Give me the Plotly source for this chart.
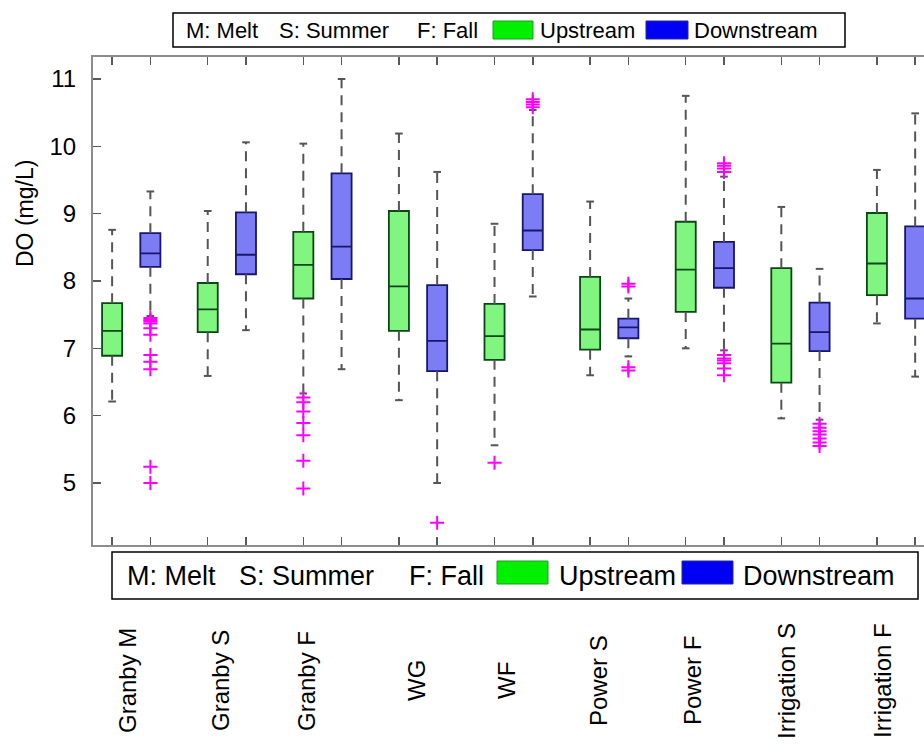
import plotly.graph_objects as go

# ---------------- data ----------------
categories = ["Granby M", "Granby S", "Granby F", "WG", "WF",
              "Power S", "Power F", "Irrigation S", "Irrigation F"]

up_lower = [6.21, 6.59, 6.33, 6.23, 5.56, 6.60, 7.00, 5.96, 7.37]
up_q1    = [6.89, 7.24, 7.74, 7.26, 6.83, 6.98, 7.54, 6.49, 7.79]
up_med   = [7.26, 7.58, 8.24, 7.92, 7.18, 7.28, 8.17, 7.07, 8.26]
up_q3    = [7.67, 7.97, 8.73, 9.04, 7.66, 8.06, 8.88, 8.19, 9.01]
up_upper = [8.76, 9.04, 10.04, 10.19, 8.85, 9.18, 10.75, 9.10, 9.65]
up_outliers = [[], [], [6.27, 6.20, 6.06, 5.89, 5.71, 5.33, 4.92], [], [5.30],
               [], [], [], []]

down_lower = [7.48, 7.27, 6.69, 5.00, 7.77, 6.88, 6.97, 5.94, 6.58]
down_q1    = [8.21, 8.10, 8.03, 6.66, 8.46, 7.15, 7.90, 6.96, 7.44]
down_med   = [8.41, 8.39, 8.51, 7.11, 8.75, 7.31, 8.19, 7.24, 7.74]
down_q3    = [8.71, 9.02, 9.60, 7.94, 9.29, 7.44, 8.58, 7.68, 8.81]
down_upper = [9.33, 10.06, 11.00, 9.62, 10.54, 7.74, 9.55, 8.18, 10.49]
down_outliers = [[7.45, 7.42, 7.40, 7.37, 7.30, 7.20, 6.90, 6.80, 6.69, 5.24, 5.00],
                 [], [], [4.41], [10.70, 10.66, 10.62, 10.58],
                 [7.96, 7.92, 6.72, 6.67],
                 [9.75, 9.71, 9.67, 9.62, 6.90, 6.85, 6.82, 6.78, 6.70, 6.60],
                 [5.88, 5.82, 5.77, 5.72, 5.66, 5.60, 5.55], []]

y_ticks = [5, 6, 7, 8, 9, 10, 11]
legend_notes = ["M: Melt", "S: Summer", "F: Fall"]
series_names = ["Upstream", "Downstream"]

# ---------------- layout helpers (page pixel coordinates) ----------------
W, H = 924, 744
L, R, T, B = 93, 924, 57, 545  # plot area in page pixels
FONT = "Liberation Sans, Arial, Helvetica, sans-serif"


def px_x(p):
    return (p - L) / (R - L)


def px_y(p):
    return (B - p) / (B - T)


up_pos = [i + 1 - 0.2 for i in range(len(categories))]
down_pos = [i + 1 + 0.2 for i in range(len(categories))]

GREEN_FILL, GREEN_EDGE = "rgb(128,245,128)", "rgb(12,70,22)"
BLUE_FILL, BLUE_EDGE = "rgb(124,124,245)", "rgb(22,22,110)"
WHISK = "rgb(85,85,85)"
CAP_HALF = 0.04

fig = go.Figure()


def add_series(pos, lower, q1, med, q3, upper, outl, fill, edge):
    fig.add_trace(go.Box(
        x=pos, q1=q1, median=med, q3=q3, lowerfence=q1, upperfence=q3,
        width=0.21, fillcolor=fill, line=dict(color=edge, width=1.8),
        whiskerwidth=0, boxpoints=False, showlegend=False, hoverinfo="skip"))
    wx, wy, cx, cy = [], [], [], []
    for p, lo, a, b, hi in zip(pos, lower, q1, q3, upper):
        wx += [p, p, None, p, p, None]
        wy += [b, hi, None, a, lo, None]
        cx += [p - CAP_HALF, p + CAP_HALF, None, p - CAP_HALF, p + CAP_HALF, None]
        cy += [hi, hi, None, lo, lo, None]
    fig.add_trace(go.Scatter(x=wx, y=wy, mode="lines", showlegend=False,
                             line=dict(color=WHISK, width=2, dash="10px,7px"),
                             hoverinfo="skip"))
    fig.add_trace(go.Scatter(x=cx, y=cy, mode="lines", showlegend=False,
                             line=dict(color=WHISK, width=2), hoverinfo="skip"))
    ox, oy = [], []
    for p, vals in zip(pos, outl):
        ox += [p] * len(vals)
        oy += vals
    fig.add_trace(go.Scatter(x=ox, y=oy, mode="markers", showlegend=False,
                             marker=dict(symbol="cross-thin", size=10,
                                         line=dict(color="rgb(255,0,255)", width=2)),
                             hoverinfo="skip"))


add_series(up_pos, up_lower, up_q1, up_med, up_q3, up_upper, up_outliers,
           GREEN_FILL, GREEN_EDGE)
add_series(down_pos, down_lower, down_q1, down_med, down_q3, down_upper,
           down_outliers, BLUE_FILL, BLUE_EDGE)

all_pos = sorted(up_pos + down_pos)

shapes = []
annotations = []


def rect(x0, x1, y0, y1, fill=None, edge="black", w=1.5):
    shapes.append(dict(type="rect", xref="paper", yref="paper",
                       x0=px_x(x0), x1=px_x(x1), y0=px_y(y1), y1=px_y(y0),
                       fillcolor=fill if fill else "rgba(0,0,0,0)",
                       line=dict(color=edge, width=w), layer="above"))


def text(s, x, y, size, anchor="left", angle=0):
    annotations.append(dict(text=s, xref="paper", yref="paper",
                            x=px_x(x), y=px_y(y), xanchor=anchor, yanchor="middle",
                            showarrow=False, textangle=angle,
                            font=dict(family=FONT, size=size, color="black")))


# top legend
rect(173, 845, 13, 47, fill="white")
rect(493, 533, 21, 39, fill="rgb(0,240,0)", edge="rgb(40,150,40)", w=1)
rect(646, 688, 21, 39, fill="rgb(0,0,245)", edge="rgb(40,40,150)", w=1)
for s, x in zip(legend_notes + series_names, [184, 277, 415, 538, 692]):
    text(s, x, 30, 22)

# bottom legend
rect(112, 918, 552, 599, fill="white")
rect(497, 548, 561, 584, fill="rgb(0,240,0)", edge="rgb(40,150,40)", w=1)
rect(682, 733, 561, 584, fill="rgb(0,0,245)", edge="rgb(40,40,150)", w=1)
for s, x in zip(legend_notes + series_names, [125, 237, 407, 557, 741]):
    text(s, x, 575.5, 27)

# category labels (rotated)
label_x = [127, 220, 306, 416, 506, 598, 692, 786, 882]
for s, x in zip(categories, label_x):
    text(s, x, 681, 24, anchor="center", angle=-90)

# y-axis title
text("DO (mg/L)", 25, 214, 23, anchor="center", angle=-90)

fig.update_layout(
    template="none",
    width=W, height=H,
    margin=dict(l=L, r=W - R, t=T, b=H - B, pad=0),
    paper_bgcolor="white", plot_bgcolor="white",
    boxmode="overlay",
    showlegend=False,
    font=dict(family=FONT, size=22, color="black"),
    shapes=shapes, annotations=annotations,
    xaxis=dict(range=[0.6, 0.6 + (R - L) / 95.6], tickvals=all_pos,
               showticklabels=False, ticks="inside", ticklen=8,
               tickwidth=1.5, tickcolor="rgb(90,90,90)",
               showline=True, linecolor="rgb(140,140,140)", linewidth=2,
               mirror="ticks", showgrid=False, zeroline=False, automargin=False),
    yaxis=dict(range=[4.079, 11.327], tickvals=y_ticks,
               ticktext=[str(v) for v in y_ticks],
               ticks="inside", ticklen=8, tickwidth=1.5, tickcolor="rgb(90,90,90)",
               showline=True, linecolor="rgb(140,140,140)", linewidth=2,
               mirror=False, showgrid=False, zeroline=False, automargin=False,
               ticklabelstandoff=10,
               tickfont=dict(family=FONT, size=24, color="black")),
)

fig.write_html(
    "out.html",
    config={"displayModeBar": False, "staticPlot": True},
    post_script="document.body.style.margin='0';document.body.style.overflow='hidden';",
)
